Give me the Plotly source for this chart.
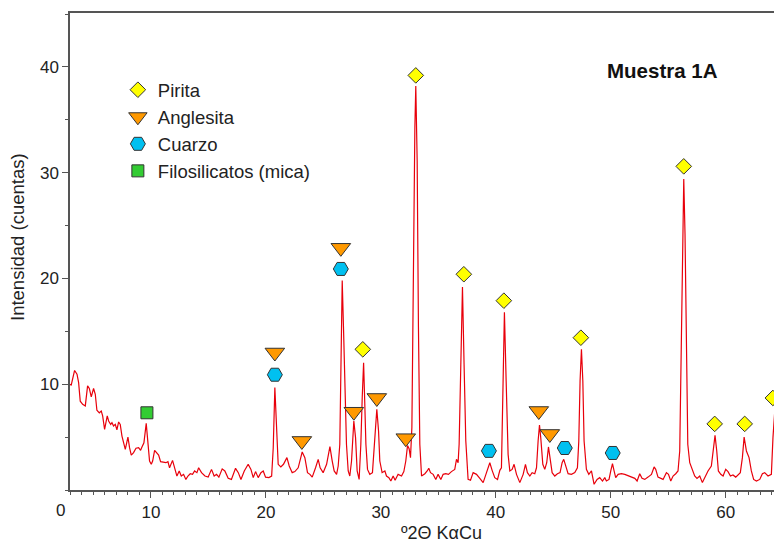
import plotly.graph_objects as go

# Difractograma (º2Θ, cuentas)
two_theta = [2.90, 3.07, 3.36, 3.57, 3.71, 3.85, 4.06, 4.29, 4.49, 4.64, 4.81, 5.01, 5.16, 5.30, 5.51, 5.68, 5.80, 5.97,
             6.20, 6.32, 6.50, 6.61, 6.75, 6.90, 7.04, 7.19, 7.33, 7.48, 7.77, 8.00, 8.14, 8.29, 8.49, 8.70, 8.93, 9.10,
             9.22, 9.39, 9.59, 9.74, 9.88, 10.03, 10.15, 10.32, 10.52, 10.67, 10.84, 11.10, 11.30, 11.48, 11.62, 11.88,
             12.10, 12.26, 12.46, 12.64, 12.84, 13.04, 13.22, 13.42, 13.62, 13.80, 14.00, 14.15, 14.40, 14.70, 14.98,
             15.27, 15.50, 15.71, 15.91, 16.20, 16.43, 16.72, 17.00, 17.36, 17.60, 17.83, 18.12, 18.46, 18.70, 18.90,
             19.10, 19.33, 19.57, 19.77, 19.97, 20.26, 20.50, 20.64, 20.78, 20.93, 21.07, 21.30, 21.53, 21.83, 22.03,
             22.29, 22.52, 22.81, 23.16, 23.39, 23.62, 23.83, 24.03, 24.32, 24.55, 24.72, 24.98, 25.28, 25.57, 25.77,
             25.94, 26.15, 26.29, 26.43, 26.52, 26.64, 26.75, 26.87, 27.01, 27.16, 27.30, 27.45, 27.65, 27.80, 27.94,
             28.11, 28.26, 28.38, 28.50, 28.58, 28.70, 28.84, 29.04, 29.27, 29.45, 29.65, 29.80, 29.91, 30.11, 30.35,
             30.49, 30.70, 30.87, 31.07, 31.24, 31.50, 31.80, 32.00, 32.17, 32.32, 32.46, 32.58, 32.70, 32.80, 32.96,
             33.04, 33.16, 33.27, 33.39, 33.54, 33.83, 34.03, 34.17, 34.32, 34.55, 34.78, 34.98, 35.22, 35.42, 35.65,
             35.88, 36.14, 36.43, 36.58, 36.72, 36.81, 36.96, 37.10, 37.24, 37.39, 37.59, 37.80, 38.03, 38.32, 38.61,
             38.90, 39.19, 39.48, 39.68, 39.91, 40.15, 40.35, 40.49, 40.61, 40.75, 40.90, 41.07, 41.22, 41.42, 41.59,
             41.80, 42.09, 42.38, 42.58, 42.75, 42.96, 43.16, 43.39, 43.54, 43.68, 43.80, 43.91, 44.09, 44.26, 44.43,
             44.58, 44.72, 44.90, 45.13, 45.36, 45.59, 45.77, 45.91, 46.06, 46.29, 46.58, 46.87, 47.10, 47.22, 47.33,
             47.45, 47.57, 47.68, 47.88, 48.09, 48.32, 48.55, 48.81, 49.04, 49.28, 49.48, 49.62, 49.85, 50.00, 50.15,
             50.29, 50.43, 50.64, 50.93, 51.22, 51.65, 52.09, 52.29, 52.52, 52.72, 52.96, 53.24, 53.54, 53.77, 53.91,
             54.11, 54.32, 54.55, 54.84, 55.02, 55.22, 55.42, 55.65, 55.85, 56.00, 56.11, 56.23, 56.35, 56.46, 56.58,
             56.70, 56.87, 57.10, 57.30, 57.50, 57.74, 57.97, 58.17, 58.46, 58.75, 58.93, 59.07, 59.22, 59.36, 59.57,
             59.77, 60.00, 60.20, 60.41, 60.63, 60.87, 61.07, 61.27, 61.45, 61.60, 61.80, 62.03, 62.23, 62.43, 62.67,
             62.96, 63.19, 63.39, 63.68, 63.97, 64.11, 64.30]
counts = [10.0, 9.93, 11.3, 10.95, 10.15, 8.4, 8.1, 7.95, 9.84, 9.6, 8.8, 9.6, 9.05, 7.54, 7.3, 7.47, 7.0, 5.74,
          7.0, 6.53, 6.2, 6.37, 6.05, 6.2, 5.68, 6.43, 6.2, 5.1, 3.85, 5.0, 4.0, 3.3, 3.53, 3.95, 4.0, 3.75,
          4.07, 4.47, 6.3, 4.64, 2.74, 2.43, 2.74, 3.75, 3.53, 3.31, 2.68, 2.62, 2.58, 2.68, 2.1, 2.8,
          1.8, 1.32, 1.8, 1.32, 1.48, 1.0, 1.32, 1.54, 1.48, 1.8, 1.64, 2.1, 1.64, 1.32, 1.22,
          1.95, 1.32, 1.48, 1.22, 2.0, 1.8, 1.1, 1.0, 2.05, 1.64, 1.0, 1.8, 2.43, 1.95, 1.17,
          1.74, 1.17, 1.64, 1.8, 1.22, 1.17, 1.32, 4.0, 9.68, 4.95, 2.43, 2.18, 2.43, 3.06, 2.27,
          1.64, 1.74, 2.1, 3.6, 3.06, 1.64, 1.48, 1.22, 2.1, 2.9, 2.1, 1.64, 2.43, 4.1, 2.74,
          1.8, 1.48, 2.27, 4.32, 12.2, 19.8, 15.4, 9.05, 4.32, 1.8, 1.32, 2.74, 6.53, 4.95, 1.8,
          1.0, 4.32, 8.73, 12.04, 9.05, 4.32, 1.95, 1.48, 1.64, 4.32, 7.63, 5.58, 2.74, 1.64, 1.8,
          1.32, 1.17, 0.85, 1.32, 0.92, 1.48, 1.32, 1.74, 2.74, 4.2, 3.9, 3.06, 5.9, 18.5, 34.3,
          38.2, 31.1, 15.4, 4.32, 1.32, 1.54, 1.8, 2.05, 1.64, 1.48, 1.0, 1.48, 1.0, 1.48, 1.54,
          1.48, 1.74, 1.95, 2.9, 2.58, 4.32, 13.5, 19.2, 11.9, 4.64, 1.0, 0.92, 1.64, 1.48, 1.1,
          0.7, 1.64, 2.58, 1.86, 1.17, 1.0, 1.86, 2.1, 10.3, 16.8, 10.3, 3.37, 1.8, 1.95, 2.43,
          1.48, 0.7, 1.48, 2.43, 1.64, 1.32, 1.64, 1.54, 2.1, 4.64, 6.15, 4.95, 2.43, 1.95, 2.58,
          4.07, 2.74, 1.64, 1.32, 1.54, 1.64, 2.58, 2.9, 2.27, 1.54, 1.48, 1.64, 2.1, 4.64, 10.3,
          13.3, 10.3, 4.64, 1.95, 1.48, 1.8, 0.54, 1.0, 1.17, 0.85, 1.17, 0.85, 1.0, 1.8, 2.49,
          1.8, 1.17, 1.48, 1.54, 1.48, 1.32, 1.1, 0.85, 1.54, 1.1, 1.0, 1.22, 1.48, 2.18, 1.95,
          1.22, 1.1, 1.0, 1.64, 1.48, 0.85, 1.32, 1.54, 1.8, 3.69, 13.2, 24.2, 29.4, 24.2, 13.2,
          4.32, 2.58, 1.95, 1.32, 1.1, 1.32, 0.7, 1.22, 1.8, 2.27, 3.69, 5.17, 3.69, 1.8, 1.48,
          1.32, 1.95, 1.74, 1.32, 1.42, 1.22, 1.48, 1.64, 3.06, 5.0, 3.69, 3.06, 1.8, 1.0, 0.85,
          1.0, 1.54, 1.64, 1.32, 1.48, 4.95, 8.0]

# Identificación de fases (posición del símbolo)
pirita_x = [28.43, 33.04, 37.22, 40.70, 47.40, 56.35, 59.04, 61.65, 64.10]
pirita_y = [13.3, 39.2, 20.4, 17.9, 14.4, 30.6, 6.25, 6.25, 8.7]
anglesita_x = [20.78, 23.13, 26.52, 27.65, 29.65, 32.17, 43.74, 44.70]
anglesita_y = [13.0, 4.64, 22.9, 7.4, 8.7, 4.9, 7.47, 5.3]
cuarzo_x = [20.78, 26.52, 39.40, 46.00, 50.17]
cuarzo_y = [10.9, 20.9, 3.7, 3.97, 3.5]
filo_x = [9.65]
filo_y = [7.3]

fig = go.Figure()
fig.add_trace(go.Scatter(x=two_theta, y=counts, mode="lines",
                         line=dict(color="#e8000b", width=1.2), showlegend=False, hoverinfo="skip"))

outline = dict(color="#333333", width=1)
fig.add_trace(go.Scatter(x=pirita_x, y=pirita_y, mode="markers", name="Pirita", legendgroup="a",
                         marker=dict(symbol="diamond", size=12, color="#ffff00", line=outline), cliponaxis=False))
fig.add_trace(go.Scatter(x=anglesita_x, y=anglesita_y, mode="markers", name="Anglesita", legendgroup="b",
                         marker=dict(symbol="triangle-down", size=17, color="#ff9900", line=outline), cliponaxis=False))
fig.add_trace(go.Scatter(x=cuarzo_x, y=cuarzo_y, mode="markers", name="Cuarzo", legendgroup="c",
                         marker=dict(symbol="hexagon2", size=15, color="#00c0f0", line=outline), cliponaxis=False))
fig.add_trace(go.Scatter(x=filo_x, y=filo_y, mode="markers", name="Filosilicatos (mica)", legendgroup="d",
                         marker=dict(symbol="square", size=12, color="#33cc33", line=outline), cliponaxis=False))

font_family = "Liberation Sans, Arial, sans-serif"
fig.update_layout(
    width=774, height=542,
    margin=dict(l=70, r=0, t=13, b=52),
    paper_bgcolor="white", plot_bgcolor="white",
    font=dict(family=font_family, size=17, color="#222222"),
    legend=dict(x=0.068, y=0.878, xanchor="left", yanchor="top", bgcolor="rgba(0,0,0,0)",
                font=dict(size=18.5, color="#222222"), tracegroupgap=0),
    xaxis=dict(range=[2.96, 64.2], dtick=10, tick0=0, ticks="outside", ticklen=6, tickwidth=1,
               tickcolor="#555555", showline=True, linecolor="#555555", linewidth=1.5, mirror=True,
               showgrid=False, zeroline=False,
               minor=dict(dtick=1, ticks="outside", ticklen=3, tickcolor="#555555", showgrid=False)),
    yaxis=dict(range=[0, 45.1], tickvals=[10, 20, 30, 40], ticks="outside", ticklen=6, tickwidth=1,
               tickcolor="#555555", showline=True, linecolor="#555555", linewidth=1.5,
               showgrid=False, zeroline=False,
               minor=dict(dtick=5, tick0=0, ticks="outside", ticklen=3, tickcolor="#555555", showgrid=False)),
    annotations=[
        dict(text="<b>Muestra 1A</b>", xref="paper", yref="paper", x=0.841, y=0.880,
             xanchor="center", yanchor="middle",
             showarrow=False, font=dict(size=20.5, color="#111111")),
        dict(text="0", xref="paper", yref="paper", x=-0.0142, y=-0.042,
             xanchor="center", yanchor="middle",
             showarrow=False, font=dict(size=17, color="#222222")),
        dict(text="º2Θ KαCu", xref="paper", yref="paper", x=(441 - 70) / 704, y=-(533 - 490) / 477,
             xanchor="center", yanchor="middle",
             showarrow=False, font=dict(size=18, color="#222222")),
        dict(text="Intensidad (cuentas)", xref="paper", yref="paper", x=(18 - 70) / 704, y=(490 - 237) / 477,
             xanchor="center", yanchor="middle", textangle=-90,
             showarrow=False, font=dict(size=18.5, color="#222222")),
    ],
)

fig.write_html("out.html")
